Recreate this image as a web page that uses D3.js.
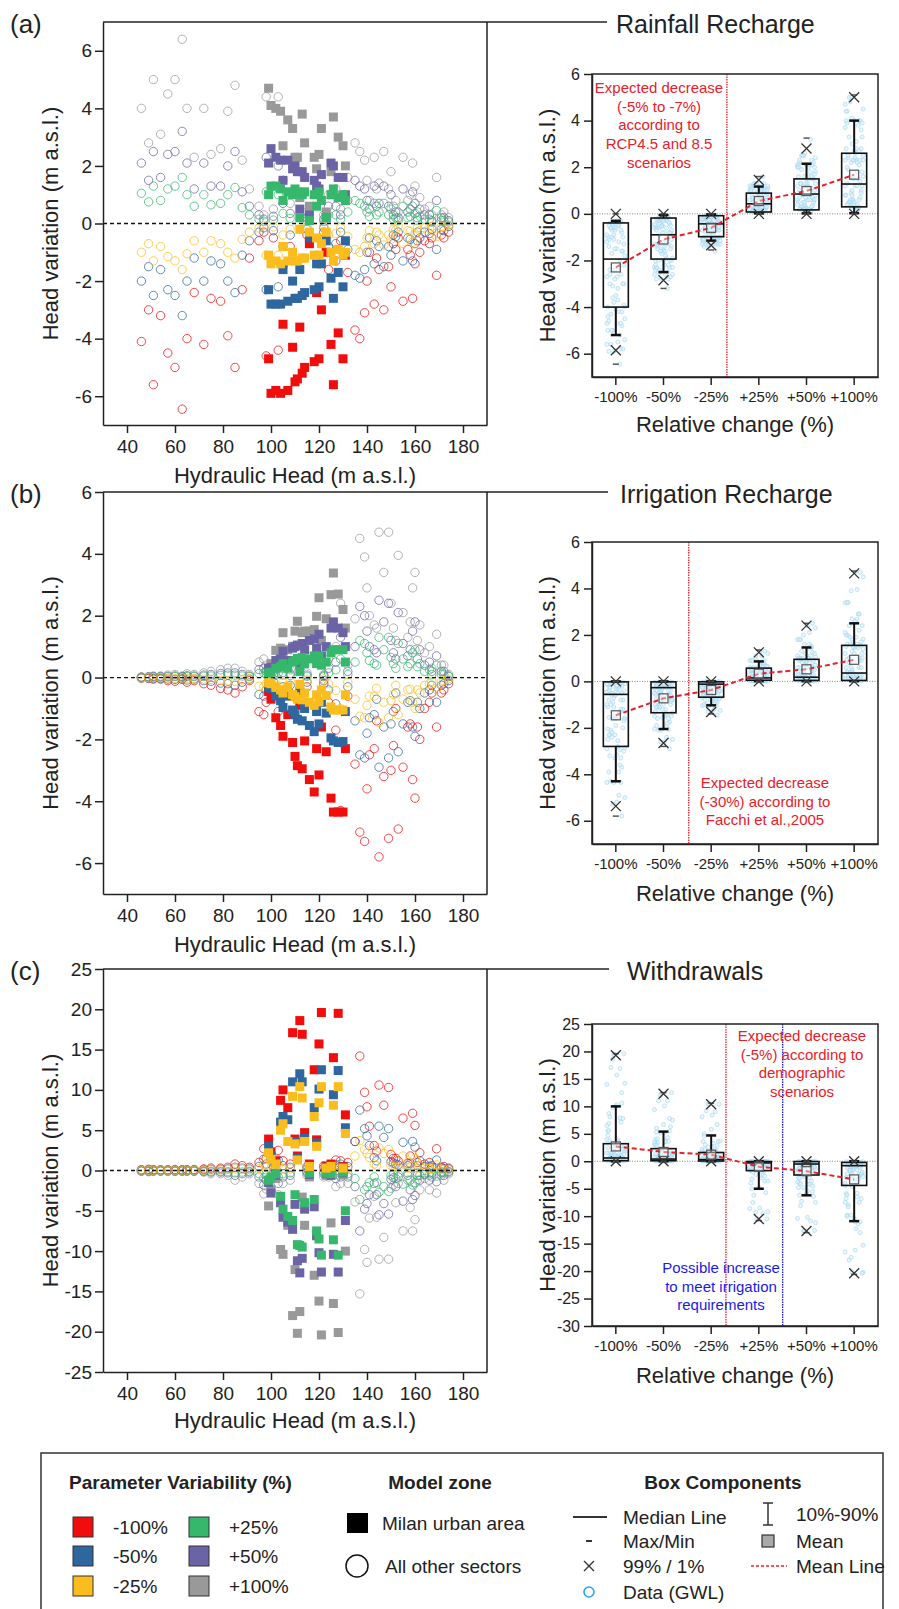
<!DOCTYPE html>
<html>
<head>
<meta charset="utf-8">
<script src="https://cdn.jsdelivr.net/npm/d3@7"></script>
<style>
  body { margin: 0; background: #fff; }
  text { font-family: "Liberation Sans", Arial, sans-serif; fill: #222; }
</style>
</head>
<body>
<svg id="chart" width="899" height="1609"></svg>
<script>
// ---- categories / series ----
const seriesNames = ["-100%", "-50%", "-25%", "+25%", "+50%", "+100%"];
const seriesColors = ["#f20d0d", "#2e67a0", "#fbbd1e", "#36b86c", "#6a63a6", "#999999"];
const headTicks = [40, 60, 80, 100, 120, 140, 160, 180];

// hydraulic head of the wells (m a.s.l.)
const milanHead = [99, 100, 102, 104, 105, 107, 109, 110, 111, 112, 113, 114, 116, 118, 119, 120, 121, 123, 125, 126, 128, 130, 131];
const otherHead = [46, 49, 51, 54, 57, 60, 63, 65, 68, 72, 75, 79, 82, 85, 88, 91, 95, 97, 98, 101,
  124, 129, 135, 137, 139, 140, 141, 143, 145, 147, 149, 150, 151, 153, 155, 157, 159, 160, 161, 162, 164, 167, 169, 171, 174,
  103, 105, 108, 115, 122, 127, 132, 144, 152, 158, 166, 172];

// ---- (a) rainfall recharge: head variation per series (-100 .. +100) ----
const rainfallMilan = [
  [-4.7,-5.9,-5.8,-5.9,-3.5,-5.8,-4.3,-5.5,-5.4,-3.6,-5.2,-5.0,-0.7,-4.8,-2.4,-4.7,-3.0,-1.0,-4.2,-5.6,-3.8,-4.7,-1.1],
  [-2.3,-2.8,-2.8,-2.8,-1.6,-2.7,-2.0,-2.6,-2.6,-1.6,-2.5,-2.4,-0.5,-2.3,-1.4,-2.2,-1.4,-0.6,-1.9,-2.6,-1.7,-2.2,-0.6],
  [-1.1,-1.4,-1.3,-1.4,-0.8,-1.3,-1.0,-1.3,-1.3,-0.2,-1.2,-1.2,-0.3,-1.1,-0.5,-1.1,-0.7,-0.3,-1.0,-1.3,-0.9,-1.1,-1.0],
  [1.0,1.3,1.3,1.2,0.8,1.1,1.0,1.2,1.1,0.2,1.0,1.1,0.1,1.0,0.6,1.1,0.8,0.2,1.0,1.2,0.9,1.0,0.8],
  [2.1,2.6,2.3,2.2,1.5,2.2,1.9,2.0,1.8,0.5,1.8,1.6,0.3,1.5,1.3,1.2,1.7,0.2,2.1,2.0,1.6,1.6,1.0],
  [4.7,4.1,4.0,3.9,2.7,3.6,3.3,2.3,2.3,0.9,3.8,2.8,0.6,2.3,1.9,2.4,3.3,0.4,1.8,3.7,3.0,2.7,2.0]
];
const rainfallOthers = [
  [-4.1,-3.0,-5.6,-3.2,-4.5,-5.0,-6.45,-4.0,-2.4,-4.2,-2.6,-2.7,-3.9,-5.0,-2.3,-1.2,-0.6,-0.3,-4.6,-0.5,
   -1.6,-0.6,-3.7,-4.0,-3.1,-2.0,-1.0,-2.8,-1.6,-3.0,-1.5,-2.2,-0.7,-0.5,-2.7,-0.9,-2.6,-1.4,-0.6,-1.0,-0.6,-0.5,-1.8,-0.4,-0.3,
   -4.4,-1.5,-0.8,-0.4,-0.3,-1.3,-1.7,-1.2,-0.9,-1.1,-0.7,-0.5],
  [-2.0,-1.5,-2.5,-1.6,-2.3,-2.5,-3.2,-2.0,-1.2,-2.0,-1.3,-1.4,-2.0,-2.4,-1.1,-0.6,-0.3,-0.15,-2.3,-0.25,
   -0.8,-0.3,-1.8,-1.9,-1.6,-1.0,-0.5,-1.4,-0.8,-1.5,-0.8,-1.1,-0.4,-0.3,-1.3,-0.5,-1.3,-0.7,-0.3,-0.5,-0.3,-0.2,-0.9,-0.2,-0.1,
   -2.2,-0.8,-0.4,-0.2,-0.15,-0.7,-0.9,-0.6,-0.45,-0.55,-0.35,-0.25],
  [-1.0,-0.7,-1.3,-0.8,-1.15,-1.3,-1.6,-1.05,-0.6,-1.0,-0.6,-0.7,-1.0,-1.2,-0.55,-0.3,-0.15,-0.08,-1.1,-0.12,
   -0.4,-0.15,-0.9,-1.0,-0.8,-0.5,-0.25,-0.7,-0.4,-0.75,-0.4,-0.55,-0.2,-0.1,-0.7,-0.25,-0.65,-0.35,-0.15,-0.25,-0.15,-0.1,-0.45,-0.1,-0.05,
   -1.1,-0.4,-0.2,-0.1,-0.08,-0.35,-0.45,-0.3,-0.22,-0.28,-0.18,-0.12],
  [1.05,0.75,1.3,0.8,1.2,1.3,1.6,1.0,0.6,1.0,0.65,0.7,1.0,1.25,0.55,0.3,0.15,0.08,1.1,0.12,
   0.3,0.15,0.8,0.7,0.6,0.4,0.25,0.7,0.4,0.7,0.3,0.5,0.15,0.1,0.6,0.2,0.6,0.35,0.1,0.25,0.15,0.05,0.45,0.1,0.05,
   1.0,0.35,0.18,0.1,0.07,0.3,0.4,0.3,0.2,0.25,0.15,0.1],
  [2.1,1.5,2.5,1.6,2.4,2.5,3.2,2.1,1.2,2.1,1.3,1.3,2.0,2.5,1.1,0.6,0.3,0.15,2.3,0.25,
   0.6,0.3,1.5,1.3,1.2,0.8,0.5,1.3,0.7,1.3,0.6,1.0,0.3,0.2,1.2,0.4,1.1,0.7,0.2,0.5,0.3,0.1,0.8,0.2,0.1,
   2.0,0.7,0.35,0.2,0.15,0.6,0.8,0.6,0.4,0.5,0.3,0.2],
  [4.0,2.8,5.0,3.1,4.5,5.0,6.4,4.0,2.3,4.0,2.4,2.6,3.9,4.8,2.2,1.2,0.6,0.3,4.4,0.5,
   1.0,0.5,2.8,2.5,2.2,1.5,0.8,2.3,1.4,2.5,1.2,1.8,0.6,0.4,2.3,0.8,2.1,1.3,0.4,0.9,0.5,0.3,1.6,0.3,0.2,
   4.4,1.5,0.7,0.4,0.3,1.2,1.6,1.2,0.8,1.0,0.6,0.4]
];

// ---- (b) irrigation recharge ----
const irrigationMilan = [
  [-0.45,-0.7,-1.3,-1.55,-1.9,-1.2,-2.1,-2.55,-2.85,-0.9,-2.95,-2.05,-3.3,-3.7,-2.3,-3.15,-1.6,-2.4,-3.9,-4.35,-4.35,-4.35,-2.3],
  [-0.3,-0.35,-0.6,-0.75,-0.97,-0.6,-1.05,-1.2,-1.35,-0.45,-1.4,-1.0,-1.55,-1.75,-1.1,-1.5,-0.8,-1.15,-1.95,-2.05,-2.1,-2.07,-1.1],
  [-0.17,-0.2,-0.32,-0.4,-0.5,-0.3,-0.55,-0.62,-0.7,-0.22,-0.72,-0.5,-0.8,-0.9,-0.56,-0.78,-0.4,-0.58,-0.95,-1.05,-1.05,-1.05,-0.56],
  [0.15,0.17,0.3,0.35,0.45,0.3,0.5,0.55,0.62,0.2,0.65,0.45,0.6,0.7,0.45,0.7,0.4,0.5,0.8,0.9,0.9,0.9,0.5],
  [0.3,0.33,0.55,0.6,0.85,0.55,0.95,1.0,1.05,0.4,1.1,0.9,1.2,1.25,0.95,1.4,0.7,1.0,1.6,1.8,1.6,1.45,1.0],
  [0.26,0.45,0.88,0.95,1.45,0.9,1.01,1.5,1.82,0.6,1.45,1.5,1.5,1.55,1.98,2.58,1.2,1.9,2.68,3.38,2.7,2.2,1.6]
];
const irrigationOthers = [
  [-0.02,-0.03,-0.05,-0.05,-0.1,-0.12,-0.06,-0.15,-0.1,-0.2,-0.25,-0.35,-0.4,-0.5,-0.3,-0.1,-1.1,-1.2,-0.8,-0.3,
   -0.8,-4.3,-2.8,-5.0,-5.3,-3.6,-2.5,-2.3,-5.8,-3.2,-5.2,-3.0,-2.2,-4.9,-2.9,-1.6,-3.3,-3.9,-1.6,-2.0,-1.0,-0.5,-1.6,-0.5,-0.2,
   -1.1,-0.6,-0.5,-0.3,-0.2,-1.7,-0.6,-1.4,-1.0,-1.5,-0.8,-0.4],
  [-0.01,-0.02,-0.03,-0.03,-0.05,-0.06,-0.03,-0.08,-0.05,-0.1,-0.12,-0.18,-0.2,-0.25,-0.15,-0.05,-0.55,-0.6,-0.4,-0.15,
   -0.4,-2.1,-1.4,-2.5,-2.6,-1.8,-1.3,-1.2,-2.9,-1.6,-2.6,-1.5,-1.1,-2.4,-1.5,-0.8,-1.6,-1.9,-0.8,-1.0,-0.5,-0.25,-0.8,-0.25,-0.1,
   -0.55,-0.3,-0.25,-0.15,-0.1,-0.85,-0.3,-0.7,-0.5,-0.75,-0.4,-0.2],
  [-0.01,-0.01,-0.01,-0.01,-0.02,-0.03,-0.02,-0.04,-0.03,-0.05,-0.06,-0.09,-0.1,-0.12,-0.08,-0.03,-0.28,-0.3,-0.2,-0.08,
   -0.2,-1.0,-0.7,-1.25,-1.3,-0.9,-0.6,-0.6,-1.45,-0.8,-1.3,-0.75,-0.55,-1.2,-0.7,-0.4,-0.8,-1.0,-0.4,-0.5,-0.25,-0.12,-0.4,-0.12,-0.05,
   -0.28,-0.15,-0.12,-0.08,-0.05,-0.42,-0.15,-0.35,-0.25,-0.38,-0.2,-0.1],
  [0.01,0.01,0.01,0.01,0.02,0.03,0.01,0.03,0.03,0.04,0.05,0.07,0.08,0.08,0.05,0.03,0.13,0.15,0.1,0.05,
   0.15,0.6,0.5,1.2,1.1,0.8,0.55,0.45,1.3,0.9,1.3,0.65,0.45,1.1,0.6,0.35,0.8,0.9,0.35,0.45,0.2,0.1,0.4,0.1,0.03,
   0.15,0.08,0.07,0.04,0.03,0.25,0.1,0.4,0.3,0.45,0.25,0.1],
  [0.01,0.02,0.03,0.03,0.04,0.05,0.03,0.06,0.05,0.08,0.1,0.13,0.15,0.15,0.1,0.05,0.26,0.3,0.2,0.1,
   0.3,1.3,1.0,2.3,2.0,1.5,1.0,0.9,2.5,1.8,2.4,1.2,0.8,2.1,1.1,0.7,1.5,1.8,0.6,0.9,0.4,0.2,0.7,0.2,0.05,
   0.3,0.16,0.13,0.08,0.06,0.5,0.2,0.8,0.6,0.9,0.5,0.2],
  [0.02,0.03,0.05,0.05,0.08,0.1,0.05,0.12,0.1,0.15,0.2,0.25,0.3,0.3,0.2,0.1,0.5,0.6,0.4,0.2,
   0.6,2.4,1.9,4.5,3.9,2.9,2.0,1.7,4.7,3.4,4.7,2.4,1.6,3.95,2.1,1.3,2.9,3.4,1.2,1.7,0.8,0.3,1.4,0.4,0.1,
   0.6,0.3,0.25,0.15,0.1,1.0,0.4,1.6,1.2,1.8,1.0,0.4]
];

// ---- (c) withdrawals ----
const withdrawalMilan = [
  [3.9,2.3,1.2,8.7,10.0,7.8,17.1,3.9,1.8,18.6,16.9,4.7,0.8,12.5,3.8,15.7,19.6,0.5,0.8,14.0,19.5,0.5,6.9],
  [3.0,1.8,0.9,6.0,6.7,6.3,11.0,3.6,1.5,12.0,11.0,4.0,0.6,7.8,3.4,10.1,12.5,0.4,0.6,9.4,12.4,0.4,5.3],
  [2.2,1.4,0.8,5.0,5.8,3.6,9.2,3.3,1.3,10.4,9.0,3.6,0.5,6.7,3.0,8.4,10.4,0.3,0.5,8.1,10.4,0.3,4.6],
  [-1.2,-0.8,-0.4,-3.2,-4.8,-5.7,-6.2,-3.0,-9.2,-9.3,-9.5,-4.0,-0.3,-3.6,-7.5,-8.5,-10.5,-0.3,-0.4,-8.6,-10.5,-0.2,-5.0],
  [-1.5,-2.8,-0.6,-4.0,-5.8,-6.4,-7.3,-4.2,-11.2,-12.7,-10.9,-4.8,-0.5,-4.5,-8.1,-10.2,-12.6,-0.4,-0.6,-10.4,-12.6,-0.3,-6.2],
  [-4.4,-2.4,-1.0,-9.8,-10.4,-6.8,-18.0,-12.3,-20.2,-17.5,-3.3,-6.8,-0.8,-13.0,-7.9,-16.2,-20.4,-0.6,-6.5,-16.5,-20.1,-0.5,-10.0]
];
const withdrawalOthers = [
  [0.1,0.15,0.1,0.1,0.1,0.12,0.1,0.1,0.12,0.2,0.3,0.3,0.4,0.8,0.6,0.4,1.0,2.7,1.5,0.6,
   0.6,1.2,3.6,14.2,9.7,7.9,5.5,3.1,10.6,8.1,10.3,2.0,1.5,1.2,6.5,0.9,7.1,5.6,1.0,2.2,0.8,0.6,2.7,0.4,0.3,
   2.5,1.2,0.8,0.5,0.6,1.3,1.0,2.4,1.5,1.8,1.0,0.5],
  [0.05,0.08,0.05,0.05,0.05,0.06,0.05,0.05,0.06,0.1,0.15,0.15,0.2,0.4,0.3,0.2,0.5,1.4,0.8,0.3,
   0.4,0.8,3.6,7.5,5.2,4.3,3.1,1.6,5.5,4.1,5.2,1.1,0.9,0.7,3.5,0.6,3.6,2.9,0.6,1.2,0.5,0.4,1.3,0.3,0.2,
   1.3,0.6,0.4,0.25,0.3,0.7,0.5,1.2,0.8,0.9,0.5,0.25],
  [0.03,0.04,0.03,0.03,0.03,0.03,0.03,0.03,0.03,0.05,0.08,0.08,0.1,0.2,0.15,0.1,0.25,0.7,0.4,0.15,
   0.2,0.4,1.8,3.7,2.6,2.1,1.6,0.8,2.8,2.1,2.6,0.6,0.5,0.4,1.8,0.3,1.9,1.5,0.3,0.6,0.3,0.2,0.7,0.15,0.1,
   0.6,0.3,0.2,0.12,0.15,0.35,0.25,0.6,0.4,0.45,0.25,0.12],
  [-0.03,-0.04,-0.03,-0.03,-0.03,-0.03,-0.03,-0.03,-0.03,-0.05,-0.1,-0.1,-0.15,-0.3,-0.2,-0.1,-0.4,-0.9,-0.6,-0.2,
   -0.2,-0.4,-1.0,-3.6,-2.4,-2.0,-1.5,-0.8,-2.7,-2.0,-2.6,-0.6,-0.5,-0.4,-1.7,-0.3,-1.8,-1.5,-0.3,-0.6,-0.3,-0.2,-0.7,-0.15,-0.1,
   -0.8,-0.4,-0.3,-0.15,-0.2,-0.5,-0.4,-1.5,-1.0,-1.2,-0.6,-0.3],
  [-0.05,-0.08,-0.05,-0.05,-0.05,-0.06,-0.05,-0.05,-0.06,-0.1,-0.2,-0.2,-0.3,-0.6,-0.4,-0.2,-0.8,-1.8,-1.2,-0.4,
   -0.4,-0.8,-2.0,-7.5,-4.8,-4.1,-3.0,-1.6,-5.5,-4.1,-5.4,-1.1,-0.9,-0.8,-3.8,-0.6,-3.6,-3.1,-0.6,-1.2,-0.5,-0.4,-1.4,-0.3,-0.2,
   -1.6,-0.8,-0.6,-0.3,-0.4,-1.0,-0.8,-3.0,-2.0,-2.4,-1.2,-0.6],
  [-0.1,-0.15,-0.1,-0.1,-0.1,-0.12,-0.1,-0.1,-0.12,-0.2,-0.4,-0.4,-0.6,-1.2,-0.8,-0.4,-1.6,-2.9,-2.3,-0.8,
   -0.8,-1.6,-3.9,-15.3,-9.8,-11.4,-5.9,-3.2,-11.0,-8.3,-11.0,-2.2,-1.8,-1.6,-7.5,-1.2,-7.5,-6.1,-1.2,-2.4,-1.0,-0.8,-2.8,-0.6,-0.4,
   -3.0,-1.6,-1.2,-0.6,-0.8,-2.0,-1.6,-5.8,-4.0,-4.6,-2.4,-1.2]
];

// ---- box statistics ----
const rainMin  = [-6.45, -3.2, -1.55, 0, 0, 0];
const rainP1   = [-5.85, -2.85, -1.35, 0, 0, 0];
const rainP10  = [-5.2, -2.5, -1.15, 0.02, 0.02, 0.03];
const rainQ1   = [-4.0, -1.94, -0.98, 0.08, 0.17, 0.3];
const rainMed  = [-1.94, -0.9, -0.43, 0.43, 0.85, 1.28];
const rainQ3   = [-0.39, -0.18, -0.08, 0.89, 1.5, 2.6];
const rainP90  = [-0.3, -0.05, -0.02, 1.17, 2.15, 4.0];
const rainP99  = [0, 0, 0, 1.45, 2.8, 5.0];
const rainMax  = [0, 0, 0, 1.6, 3.25, 5.1];
const rainMean = [-2.3, -1.1, -0.6, 0.55, 0.98, 1.68];

const irrMin  = [-5.8, -2.8, -1.4, 0, 0, 0];
const irrP1   = [-5.37, -2.65, -1.32, 0, 0, 0];
const irrP10  = [-4.3, -2.05, -1.03, 0.01, 0.01, 0.01];
const irrQ1   = [-2.8, -1.35, -0.68, 0.05, 0.04, 0.04];
const irrMed  = [-0.56, -0.27, -0.12, 0.15, 0.18, 0.36];
const irrQ3   = [-0.02, -0.02, -0.02, 0.57, 0.95, 1.55];
const irrP90  = [0, 0, 0, 0.86, 1.46, 2.5];
const irrP99  = [0, 0, 0, 1.25, 2.4, 4.65];
const irrMax  = [0, 0, 0, 1.35, 2.5, 4.75];
const irrMean = [-1.46, -0.73, -0.37, 0.33, 0.52, 0.93];

const wdMin  = [0, 0, 0, -10.8, -13.0, -20.6];
const wdP1   = [0, 0, 0, -10.5, -12.7, -20.4];
const wdP10  = [0, 0, 0, -5.0, -6.2, -10.9];
const wdQ1   = [0.1, 0.1, 0.05, -1.7, -2.5, -4.4];
const wdMed  = [0.6, 0.4, 0.3, -0.3, -0.5, -0.8];
const wdQ3   = [3.2, 2.3, 1.6, -0.05, -0.05, -0.2];
const wdP90  = [10.0, 5.4, 4.7, 0, 0, 0];
const wdP99  = [19.3, 12.3, 10.4, 0, 0, 0];
const wdMax  = [19.6, 12.5, 10.6, 0, 0, 0];
const wdMean = [2.7, 1.7, 1.2, -1.0, -1.8, -3.3];

// ---------------------------------------------------------------
const svg = d3.select("#chart");
const headX = d3.scaleLinear().domain([30, 190]).range([103, 487]);
const RED = "#e8202a", BLUE = "#1a1ae6";

function styleAxis(g, size) {
  g.selectAll("path, line").attr("stroke", "#222").attr("stroke-width", 1.5);
  g.selectAll("text").attr("font-size", size).attr("fill", "#222");
}

const panels = [
  { label: "(a)", labelY: 33, title: "Rainfall Recharge", titleX: 616, titleY: 33, lineEnd: 607,
    top: 22, bottom: 425, yDomain: [-7, 7], yTicks: d3.range(-6, 7, 2), xTitleY: 483,
    milan: rainfallMilan, others: rainfallOthers,
    box: { top: 74, bottom: 377, yDomain: [-7, 6], yTicks: d3.range(-6, 7, 2), xTitleY: 432,
      min: rainMin, p1: rainP1, p10: rainP10, q1: rainQ1, med: rainMed, q3: rainQ3, p90: rainP90, p99: rainP99, max: rainMax, mean: rainMean,
      refs: [{ a: "-25%", b: "+25%", t: 0.33, color: RED }],
      notes: [{ x: 659, y: 93, color: RED, lines: ["Expected decrease", "(-5% to -7%)", "according to", "RCP4.5 and 8.5", "scenarios"] }] } },
  { label: "(b)", labelY: 503, title: "Irrigation Recharge", titleX: 620, titleY: 503, lineEnd: 608,
    top: 492, bottom: 894, yDomain: [-7, 6], yTicks: d3.range(-6, 7, 2), xTitleY: 952,
    milan: irrigationMilan, others: irrigationOthers,
    box: { top: 542, bottom: 844, yDomain: [-7, 6], yTicks: d3.range(-6, 7, 2), xTitleY: 901,
      min: irrMin, p1: irrP1, p10: irrP10, q1: irrQ1, med: irrMed, q3: irrQ3, p90: irrP90, p99: irrP99, max: irrMax, mean: irrMean,
      refs: [{ a: "-50%", b: "-25%", t: 0.53, color: RED }],
      notes: [{ x: 765, y: 788, color: RED, lines: ["Expected decrease", "(-30%) according to", "Facchi et al.,2005"] }] } },
  { label: "(c)", labelY: 980, title: "Withdrawals", titleX: 627, titleY: 980, lineEnd: 609,
    top: 969, bottom: 1372, yDomain: [-25, 25], yTicks: d3.range(-25, 26, 5), xTitleY: 1428,
    milan: withdrawalMilan, others: withdrawalOthers,
    box: { top: 1024, bottom: 1326, yDomain: [-30, 25], yTicks: d3.range(-30, 26, 5), xTitleY: 1383,
      min: wdMin, p1: wdP1, p10: wdP10, q1: wdQ1, med: wdMed, q3: wdQ3, p90: wdP90, p99: wdP99, max: wdMax, mean: wdMean,
      refs: [{ a: "-25%", b: "+25%", t: 0.31, color: RED }, { a: "+25%", b: "+50%", t: 0.5, color: BLUE }],
      notes: [{ x: 802, y: 1041, color: RED, lines: ["Expected decrease", "(-5%) according to", "demographic", "scenarios"] },
              { x: 721, y: 1273, color: BLUE, lines: ["Possible increase", "to meet irrigation", "requirements"] }] } }
];

const drawOrder = [5, 4, 3, 0, 1, 2];

function drawScatter(p) {
  const g = svg.append("g");
  const y = d3.scaleLinear().domain(p.yDomain).range([p.bottom, p.top]);

  g.append("text").attr("x", 10).attr("y", p.labelY).attr("font-size", 26).text(p.label);
  g.append("text").attr("x", p.titleX).attr("y", p.titleY).attr("font-size", 25).text(p.title);

  // circles (all other sectors)
  drawOrder.forEach(s => {
    g.append("g").selectAll("circle")
      .data(otherHead.map((h, i) => ({ h, v: p.others[s][i] })))
      .join("circle")
      .attr("cx", d => headX(d.h)).attr("cy", d => y(d.v)).attr("r", 4.2)
      .attr("fill", "none").attr("stroke", seriesColors[s])
      .attr("stroke-opacity", 0.75).attr("stroke-width", 1);
  });

  g.append("line").attr("x1", 103).attr("x2", 487).attr("y1", y(0)).attr("y2", y(0))
    .attr("stroke", "#111").attr("stroke-width", 1.3).attr("stroke-dasharray", "4,3");

  // squares (Milan urban area)
  drawOrder.forEach(s => {
    g.append("g").selectAll("rect")
      .data(milanHead.map((h, i) => ({ h, v: p.milan[s][i] })))
      .join("rect")
      .attr("x", d => headX(d.h) - 4.5).attr("y", d => y(d.v) - 4.5)
      .attr("width", 9).attr("height", 9)
      .attr("fill", seriesColors[s]);
  });

  // frame + connector to the title
  g.append("line").attr("x1", 103).attr("x2", p.lineEnd).attr("y1", p.top).attr("y2", p.top)
    .attr("stroke", "#222").attr("stroke-width", 1.5);
  g.append("line").attr("x1", 487).attr("x2", 487).attr("y1", p.top).attr("y2", p.bottom)
    .attr("stroke", "#222").attr("stroke-width", 1.5);

  g.append("g").attr("transform", `translate(0,${p.bottom})`)
    .call(d3.axisBottom(headX).tickValues(headTicks).tickSize(8).tickSizeOuter(0).tickPadding(7).tickFormat(d => String(d)))
    .call(styleAxis, 19);
  g.append("g").attr("transform", "translate(103,0)")
    .call(d3.axisLeft(y).tickValues(p.yTicks).tickSize(8).tickSizeOuter(0).tickPadding(3).tickFormat(d => String(d)))
    .call(styleAxis, 19);

  g.append("text").attr("x", 295).attr("y", p.xTitleY).attr("text-anchor", "middle")
    .attr("font-size", 22).text("Hydraulic Head (m a.s.l.)");
  g.append("text").attr("transform", `translate(50,${(p.top + p.bottom) / 2}) rotate(-90)`)
    .attr("text-anchor", "middle").attr("dy", "0.35em").attr("font-size", 22)
    .text("Head variation (m a.s.l.)");
}

function drawBox(p, idx) {
  const b = p.box;
  const g = svg.append("g");
  const x = d3.scaleBand().domain(seriesNames).range([592, 878]);
  const y = d3.scaleLinear().domain(b.yDomain).range([b.bottom, b.top]);
  const cx = n => x(n) + x.bandwidth() / 2;
  const bw = 25;

  const clipId = "clip" + idx;
  g.append("clipPath").attr("id", clipId).append("rect")
    .attr("x", 592).attr("y", b.top).attr("width", 286).attr("height", b.bottom - b.top);

  const inner = g.append("g").attr("clip-path", `url(#${clipId})`);

  inner.append("line").attr("x1", 592).attr("x2", 878).attr("y1", y(0)).attr("y2", y(0))
    .attr("stroke", "#888").attr("stroke-width", 1).attr("stroke-dasharray", "1,1.5");

  b.refs.forEach(r => {
    const rx = cx(r.a) + (cx(r.b) - cx(r.a)) * r.t;
    inner.append("line").attr("x1", rx).attr("x2", rx).attr("y1", b.top).attr("y2", b.bottom)
      .attr("stroke", r.color).attr("stroke-width", 1.3).attr("stroke-dasharray", "1.5,1");
  });

  b.notes.forEach(nt => {
    const t = g.append("text").attr("text-anchor", "middle").attr("font-size", 15);
    nt.lines.forEach((ln, i) => {
      t.append("tspan").attr("x", nt.x).attr("y", nt.y + i * 18.7).style("fill", nt.color).text(ln);
    });
  });

  // data points (GWL)
  seriesNames.forEach((n, s) => {
    const vals = p.milan[s].concat(p.others[s]);
    inner.append("g").selectAll("circle").data(vals).join("circle")
      .attr("cx", (v, i) => cx(n) + ((i * 7) % 19 - 9))
      .attr("cy", v => y(v)).attr("r", 2)
      .attr("fill", "#d8effa").attr("fill-opacity", 0.5)
      .attr("stroke", "#a3d6f2").attr("stroke-width", 0.8).attr("stroke-opacity", 0.8);
  });

  const rows = seriesNames.map((n, i) => ({
    n, min: b.min[i], p1: b.p1[i], p10: b.p10[i], q1: b.q1[i], med: b.med[i],
    q3: b.q3[i], p90: b.p90[i], p99: b.p99[i], max: b.max[i], mean: b.mean[i]
  }));

  const box = g.append("g").selectAll("g").data(rows).join("g")
    .attr("transform", d => `translate(${cx(d.n)},0)`);

  // whiskers 10-90%
  box.append("line").attr("y1", d => y(d.q3)).attr("y2", d => y(d.p90)).attr("stroke", "#111").attr("stroke-width", 2);
  box.append("line").attr("y1", d => y(d.q1)).attr("y2", d => y(d.p10)).attr("stroke", "#111").attr("stroke-width", 2);
  box.append("line").attr("x1", -5).attr("x2", 5).attr("y1", d => y(d.p90)).attr("y2", d => y(d.p90)).attr("stroke", "#111").attr("stroke-width", 2.5);
  box.append("line").attr("x1", -5).attr("x2", 5).attr("y1", d => y(d.p10)).attr("y2", d => y(d.p10)).attr("stroke", "#111").attr("stroke-width", 2.5);

  box.append("rect").attr("x", -bw / 2).attr("width", bw)
    .attr("y", d => y(d.q3)).attr("height", d => Math.max(1, y(d.q1) - y(d.q3)))
    .attr("fill", "none").attr("stroke", "#111").attr("stroke-width", 1.6);
  box.append("line").attr("x1", -bw / 2).attr("x2", bw / 2)
    .attr("y1", d => y(d.med)).attr("y2", d => y(d.med)).attr("stroke", "#111").attr("stroke-width", 1.6);

  // min / max dashes
  ["min", "max"].forEach(k => {
    box.append("line").attr("x1", -3).attr("x2", 3).attr("y1", d => y(d[k])).attr("y2", d => y(d[k]))
      .attr("stroke", "#555").attr("stroke-width", 1.5);
  });
  // 1% / 99% crosses
  ["p1", "p99"].forEach(k => {
    box.append("path").attr("d", d => `M-5,${y(d[k]) - 5}L5,${y(d[k]) + 5}M-5,${y(d[k]) + 5}L5,${y(d[k]) - 5}`)
      .attr("stroke", "#333").attr("stroke-width", 1.3).attr("fill", "none");
  });

  // mean line + mean squares
  g.append("path").datum(rows)
    .attr("d", d3.line().x(d => cx(d.n)).y(d => y(d.mean)))
    .attr("fill", "none").attr("stroke", RED).attr("stroke-width", 2).attr("stroke-dasharray", "5,3");
  g.append("g").selectAll("rect").data(rows).join("rect")
    .attr("x", d => cx(d.n) - 4.5).attr("y", d => y(d.mean) - 4.5).attr("width", 9).attr("height", 9)
    .attr("fill", "#fff").attr("fill-opacity", 0.4).attr("stroke", "#555").attr("stroke-width", 1.2);

  g.append("rect").attr("x", 592).attr("y", b.top).attr("width", 286).attr("height", b.bottom - b.top)
    .attr("fill", "none").attr("stroke", "#222").attr("stroke-width", 1.5);

  g.append("g").attr("transform", `translate(0,${b.bottom})`)
    .call(d3.axisBottom(x).tickSize(8).tickSizeOuter(0).tickPadding(6))
    .call(styleAxis, 15);
  g.append("g").attr("transform", "translate(592,0)")
    .call(d3.axisLeft(y).tickValues(b.yTicks).tickSize(8).tickSizeOuter(0).tickPadding(4).tickFormat(d => String(d)))
    .call(styleAxis, 16);

  g.append("text").attr("x", 735).attr("y", b.xTitleY).attr("text-anchor", "middle")
    .attr("font-size", 22).text("Relative change (%)");
  g.append("text").attr("transform", `translate(547,${(b.top + b.bottom) / 2}) rotate(-90)`)
    .attr("text-anchor", "middle").attr("dy", "0.35em").attr("font-size", 22)
    .text("Head variation (m a.s.l.)");
}

panels.forEach((p, i) => { drawScatter(p); drawBox(p, i); });

// ---------------- legend ----------------
const lg = svg.append("g");
lg.append("rect").attr("x", 41).attr("y", 1453).attr("width", 842).attr("height", 200)
  .attr("fill", "none").attr("stroke", "#333").attr("stroke-width", 1.5);

lg.append("text").attr("x", 69).attr("y", 1489).attr("font-size", 19).attr("font-weight", "bold").text("Parameter Variability (%)");
lg.append("text").attr("x", 440).attr("y", 1489).attr("text-anchor", "middle").attr("font-size", 19).attr("font-weight", "bold").text("Model zone");
lg.append("text").attr("x", 723).attr("y", 1489).attr("text-anchor", "middle").attr("font-size", 19).attr("font-weight", "bold").text("Box Components");

const swatchRows = [1527, 1556, 1586];
seriesNames.forEach((n, i) => {
  const col = i < 3 ? 0 : 1;
  const row = i % 3;
  const sx = col === 0 ? 73 : 189;
  lg.append("rect").attr("x", sx).attr("y", swatchRows[row] - 10).attr("width", 20).attr("height", 20)
    .attr("fill", seriesColors[i]).attr("stroke", "#333").attr("stroke-width", 1);
  lg.append("text").attr("x", sx + 40).attr("y", swatchRows[row] + 7).attr("font-size", 19).text(n);
});

lg.append("rect").attr("x", 347).attr("y", 1513).attr("width", 21).attr("height", 20).attr("fill", "#000");
lg.append("text").attr("x", 382).attr("y", 1530).attr("font-size", 19).text("Milan urban area");
lg.append("circle").attr("cx", 357).attr("cy", 1566).attr("r", 11).attr("fill", "none").attr("stroke", "#111").attr("stroke-width", 1.5);
lg.append("text").attr("x", 385).attr("y", 1573).attr("font-size", 19).text("All other sectors");

lg.append("line").attr("x1", 573).attr("x2", 607).attr("y1", 1517).attr("y2", 1517).attr("stroke", "#333").attr("stroke-width", 2);
lg.append("text").attr("x", 623).attr("y", 1524).attr("font-size", 19).text("Median Line");
lg.append("line").attr("x1", 586).attr("x2", 592).attr("y1", 1541).attr("y2", 1541).attr("stroke", "#333").attr("stroke-width", 2);
lg.append("text").attr("x", 623).attr("y", 1548).attr("font-size", 19).text("Max/Min");
lg.append("path").attr("d", "M584,1561L594,1571M584,1571L594,1561").attr("stroke", "#333").attr("stroke-width", 1.4);
lg.append("text").attr("x", 623).attr("y", 1573).attr("font-size", 19).text("99% / 1%");
lg.append("circle").attr("cx", 589).attr("cy", 1592).attr("r", 5).attr("fill", "none").attr("stroke", "#2aa6e8").attr("stroke-width", 1.6);
lg.append("text").attr("x", 623).attr("y", 1599).attr("font-size", 19).text("Data (GWL)");

lg.append("path").attr("d", "M763,1503H773M768,1503V1525M763,1525H773").attr("stroke", "#333").attr("stroke-width", 1.5).attr("fill", "none");
lg.append("text").attr("x", 796).attr("y", 1521).attr("font-size", 19).text("10%-90%");
lg.append("rect").attr("x", 762).attr("y", 1535).attr("width", 12).attr("height", 12).attr("fill", "#aaa").attr("stroke", "#333").attr("stroke-width", 1.2);
lg.append("text").attr("x", 796).attr("y", 1548).attr("font-size", 19).text("Mean");
lg.append("line").attr("x1", 751).attr("x2", 787).attr("y1", 1566).attr("y2", 1566).attr("stroke", RED).attr("stroke-width", 1.5).attr("stroke-dasharray", "3,2");
lg.append("text").attr("x", 796).attr("y", 1573).attr("font-size", 19).text("Mean Line");
</script>
</body>
</html>
